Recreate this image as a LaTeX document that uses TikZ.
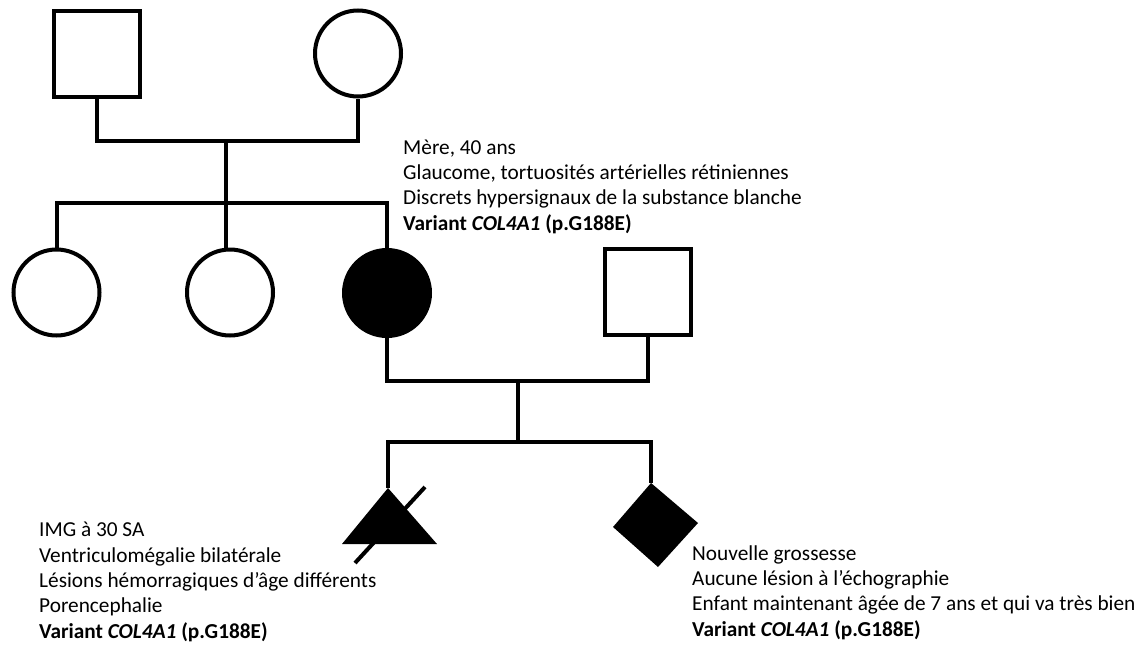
\documentclass[tikz,border=0pt]{standalone}
\usepackage{fontspec}
\setmainfont{Carlito}
\begin{document}
\begin{tikzpicture}[x=1pt,y=-1pt,
  lw/.style={line width=4pt},
  male/.style={draw,lw,rectangle,minimum size=86pt,inner sep=0pt},
  female/.style={draw,lw,circle,minimum size=86pt,inner sep=0pt},
  conn/.style={lw,line join=miter},
  info/.style={anchor=base west,align=left,inner sep=0pt,font=\fontsize{21.3}{25.3}\selectfont}]
\useasboundingbox (0,0) rectangle (1145,645);
% generation I
\node[male] (gf) at (96.5,53.5) {};
\node[female] (gm) at (358,53.5) {};
\coordinate (m1) at (226,141);
\coordinate (sib) at (226,202.5);
% generation II
\node[female] (c1) at (56.5,292.5) {};
\node[female] (c2) at (230,292.5) {};
\node[female,fill=black] (c3) at (387,293) {};
\node[male] (sp) at (648,292) {};
\coordinate (m2) at (518,381);
\coordinate (kid) at (518,442);
% generation III
\coordinate (tri) at (388,488);
\fill (tri) -- (437,544) -- (342,544) -- cycle;
\coordinate (dia) at (651,483);
\fill (dia) -- (698,523) -- (658,567) -- (613,527) -- cycle;
\coordinate (s1) at (425,487);
\coordinate (s2) at (355,563);
\draw[lw] (s1) -- (s2);
% connectors
\draw[conn] (gf.south) |- (m1) -| (gm.south);
\draw[conn] (m1) -- (sib);
\draw[conn] (c1.north) |- (sib) -| (c3.north);
\draw[conn] (sib) -- (sib |- c2.north);
\draw[conn] (c3.south) |- (m2) -| (sp.south);
\draw[conn] (m2) -- (kid);
\draw[conn] (tri) |- (kid) -| (dia);
% texts (anchored at the baseline of their last line)
\node[info] (t1) at (403,230) {Mère, 40 ans\\Glaucome, tortuosités artérielles rétiniennes\\Discrets hypersignaux de la substance blanche\\\textbf{Variant \textit{COL4A1} (p.G188E)}};
\node[info] (t2) at (39,638) {IMG à 30 SA\\Ventriculomégalie bilatérale\\Lésions hémorragiques d’âge différents\\Porencephalie\\\textbf{Variant \textit{COL4A1} (p.G188E)}};
\node[info] (t3) at (692,636) {Nouvelle grossesse\\Aucune lésion à l’échographie\\Enfant maintenant âgée de 7 ans et qui va très bien\\\textbf{Variant \textit{COL4A1} (p.G188E)}};
\end{tikzpicture}
\end{document}
